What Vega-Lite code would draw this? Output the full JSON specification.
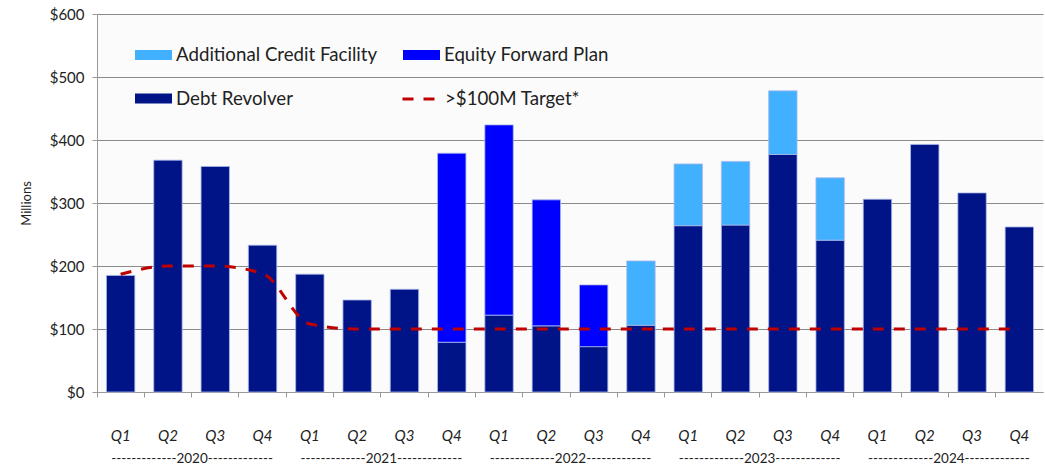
{
  "$schema": "https://vega.github.io/schema/vega-lite/v6.json",
  "autosize": {"type": "none"},
  "width": 946,
  "height": 378,
  "padding": {"left": 97, "top": 14, "right": 2, "bottom": 74},
  "background": "white",
  "view": {"stroke": null, "fill": "#fbfbfb"},
  "config": {"font": "Lato"},
  "datasets": {
    "bars": [
      {"q": "2020 Q1", "series": "Debt Revolver", "v": 185, "ord": 1},
      {"q": "2020 Q2", "series": "Debt Revolver", "v": 368, "ord": 1},
      {"q": "2020 Q3", "series": "Debt Revolver", "v": 358, "ord": 1},
      {"q": "2020 Q4", "series": "Debt Revolver", "v": 233, "ord": 1},
      {"q": "2021 Q1", "series": "Debt Revolver", "v": 187, "ord": 1},
      {"q": "2021 Q2", "series": "Debt Revolver", "v": 146, "ord": 1},
      {"q": "2021 Q3", "series": "Debt Revolver", "v": 163, "ord": 1},
      {"q": "2021 Q4", "series": "Debt Revolver", "v": 79, "ord": 1},
      {"q": "2021 Q4", "series": "Equity Forward Plan", "v": 300, "ord": 2},
      {"q": "2022 Q1", "series": "Debt Revolver", "v": 122, "ord": 1},
      {"q": "2022 Q1", "series": "Equity Forward Plan", "v": 302, "ord": 2},
      {"q": "2022 Q2", "series": "Debt Revolver", "v": 105, "ord": 1},
      {"q": "2022 Q2", "series": "Equity Forward Plan", "v": 200, "ord": 2},
      {"q": "2022 Q3", "series": "Debt Revolver", "v": 72, "ord": 1},
      {"q": "2022 Q3", "series": "Equity Forward Plan", "v": 98, "ord": 2},
      {"q": "2022 Q4", "series": "Debt Revolver", "v": 106, "ord": 1},
      {"q": "2022 Q4", "series": "Additional Credit Facility", "v": 102, "ord": 3},
      {"q": "2023 Q1", "series": "Debt Revolver", "v": 264, "ord": 1},
      {"q": "2023 Q1", "series": "Additional Credit Facility", "v": 98, "ord": 3},
      {"q": "2023 Q2", "series": "Debt Revolver", "v": 265, "ord": 1},
      {"q": "2023 Q2", "series": "Additional Credit Facility", "v": 101, "ord": 3},
      {"q": "2023 Q3", "series": "Debt Revolver", "v": 377, "ord": 1},
      {"q": "2023 Q3", "series": "Additional Credit Facility", "v": 101, "ord": 3},
      {"q": "2023 Q4", "series": "Debt Revolver", "v": 241, "ord": 1},
      {"q": "2023 Q4", "series": "Additional Credit Facility", "v": 99, "ord": 3},
      {"q": "2024 Q1", "series": "Debt Revolver", "v": 306, "ord": 1},
      {"q": "2024 Q2", "series": "Debt Revolver", "v": 393, "ord": 1},
      {"q": "2024 Q3", "series": "Debt Revolver", "v": 316, "ord": 1},
      {"q": "2024 Q4", "series": "Debt Revolver", "v": 262, "ord": 1}
    ],
    "target": [
      {"q": "2020 Q1", "series": ">$100M Target*", "t": 187},
      {"q": "2020 Q2", "series": ">$100M Target*", "t": 200},
      {"q": "2020 Q3", "series": ">$100M Target*", "t": 200},
      {"q": "2020 Q4", "series": ">$100M Target*", "t": 188},
      {"q": "2021 Q1", "series": ">$100M Target*", "t": 108},
      {"q": "2021 Q2", "series": ">$100M Target*", "t": 100},
      {"q": "2021 Q3", "series": ">$100M Target*", "t": 100},
      {"q": "2021 Q4", "series": ">$100M Target*", "t": 100},
      {"q": "2022 Q1", "series": ">$100M Target*", "t": 100},
      {"q": "2022 Q2", "series": ">$100M Target*", "t": 100},
      {"q": "2022 Q3", "series": ">$100M Target*", "t": 100},
      {"q": "2022 Q4", "series": ">$100M Target*", "t": 100},
      {"q": "2023 Q1", "series": ">$100M Target*", "t": 100},
      {"q": "2023 Q2", "series": ">$100M Target*", "t": 100},
      {"q": "2023 Q3", "series": ">$100M Target*", "t": 100},
      {"q": "2023 Q4", "series": ">$100M Target*", "t": 100},
      {"q": "2024 Q1", "series": ">$100M Target*", "t": 100},
      {"q": "2024 Q2", "series": ">$100M Target*", "t": 100},
      {"q": "2024 Q3", "series": ">$100M Target*", "t": 100},
      {"q": "2024 Q4", "series": ">$100M Target*", "t": 100}
    ],
    "years": [
      {"yr": "2020"}, {"yr": "2021"}, {"yr": "2022"}, {"yr": "2023"}, {"yr": "2024"}
    ]
  },
  "layer": [
    {
      "layer": [
        {
          "data": {"name": "bars"},
          "mark": {"type": "bar", "stroke": "#a9b8e8", "strokeWidth": 0.8},
          "encoding": {
            "x": {
              "field": "q", "type": "nominal", "sort": null,
              "scale": {"paddingInner": 0.4, "paddingOuter": 0.2},
              "axis": {
                "title": null, "bandPosition": -0.3333,
                "labelExpr": "slice(datum.value, 5)", "labelAngle": 0,
                "labelFontStyle": "italic", "labelFontSize": 15, "labelColor": "#222",
                "labelPadding": 31, "tickSize": 5, "tickColor": "#999", "domainColor": "#999",
                "grid": false, "labelFont": "Lato"
              }
            },
            "y": {
              "field": "v", "type": "quantitative", "stack": "zero",
              "scale": {"domain": [0, 600], "nice": false},
              "axis": {
                "title": "Millions", "titleFontWeight": "normal", "titleFontSize": 13, "titleColor": "#222",
                "titlePadding": 16, "format": "$,.0f", "values": [0, 100, 200, 300, 400, 500, 600],
                "labelFontSize": 15, "labelColor": "#222", "labelPadding": 8, "tickSize": 5,
                "tickColor": "#999", "domainColor": "#999", "gridColor": "#8a8a8a", "gridWidth": 1
              }
            },
            "order": {"field": "ord", "type": "quantitative"},
            "color": {
              "field": "series", "type": "nominal",
              "scale": {
                "domain": ["Additional Credit Facility", "Equity Forward Plan", "Debt Revolver"],
                "range": ["#41b0ff", "#0000ff", "#001487"]
              },
              "legend": {
                "title": null, "orient": "none", "legendX": 38, "legendY": 22, "columns": 2,
                "direction": "horizontal",
                "columnPadding": 25, "rowPadding": 15, "padding": 0,
                "symbolType": "M-1,-0.27H1V0.27H-1Z", "symbolSize": 1369, "symbolStrokeWidth": 0,
                "labelFontSize": 18.7, "labelColor": "#222", "labelOffset": 4, "labelFont": "Lato",
                "labelLimit": 400
              }
            }
          }
        },
        {
          "data": {"name": "target"},
          "mark": {"type": "line", "interpolate": "monotone", "strokeWidth": 3, "stroke": "#c00000"},
          "encoding": {
            "x": {"field": "q", "type": "nominal", "sort": null},
            "y": {"field": "t", "type": "quantitative"},
            "strokeDash": {
              "field": "series", "type": "nominal",
              "scale": {"domain": [">$100M Target*"], "range": [[11, 10]]},
              "legend": {
                "title": null, "orient": "none", "legendX": 304, "legendY": 67,
                "padding": 0, "symbolType": "stroke", "symbolSize": 1089,
                "symbolStrokeColor": "#c00000", "symbolStrokeWidth": 3,
                "labelFontSize": 18.7, "labelColor": "#222", "labelOffset": 8, "labelFont": "Lato",
                "labelLimit": 400
              }
            }
          }
        }
      ]
    },
    {
      "data": {"name": "years"},
      "mark": {"type": "text", "text": ""},
      "encoding": {
        "x": {
          "field": "yr", "type": "nominal", "sort": null,
          "scale": {"paddingInner": 0, "paddingOuter": 0},
          "axis": {
            "orient": "bottom", "title": null, "ticks": false, "domain": false, "grid": false,
            "labelAngle": 0, "labelExpr": "'-------------' + datum.value + '-------------'",
            "labelFontSize": 13.5, "labelColor": "#222", "labelPadding": 59, "labelFont": "Lato"
          }
        }
      }
    }
  ],
  "resolve": {"scale": {"x": "independent"}, "axis": {"x": "independent"}}
}
